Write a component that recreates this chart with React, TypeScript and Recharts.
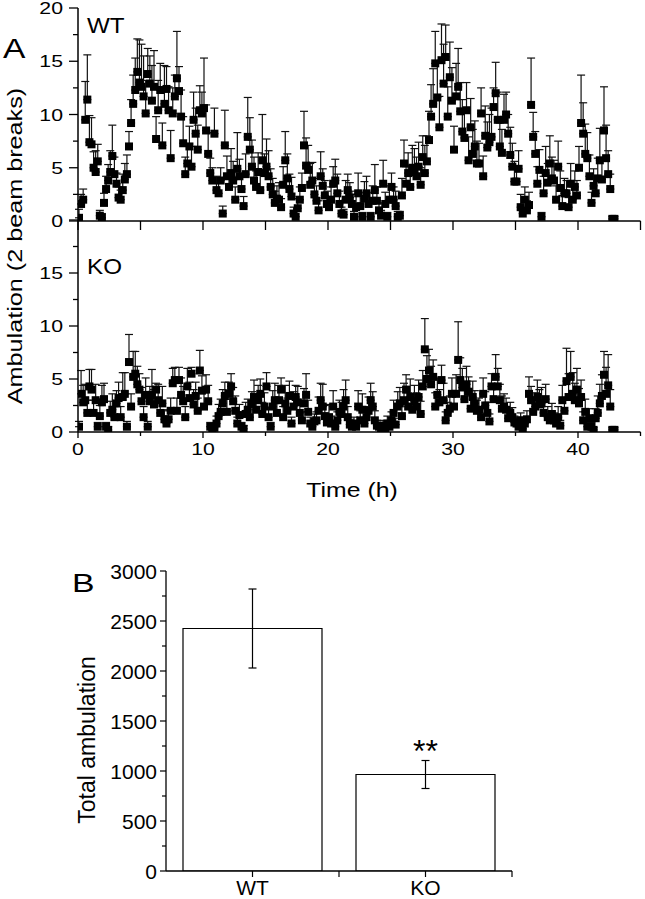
import React from "react";
import {
  ScatterChart,
  Scatter,
  XAxis,
  YAxis,
  ErrorBar,
  BarChart,
  Bar,
  LabelList,
} from "recharts";

const FONT = '"Liberation Sans", Arial, sans-serif';

// recording grid (h): first bin and bin width (10 min)
const T_FIRST = 0.08;
const T_STEP = 1 / 6;

// Panel A, WT: mean ambulation per bin (one line per hour) and SEM (upper bar only)
const wtMean = [
  0.3, 1.6, 2.0, 9.5, 11.4, 7.4,
  7.2, 5.0, 4.6, 5.6, 0.5, 0.3,
  1.7, 3.0, 3.8, 4.6, 6.1, 4.4,
  3.5, 2.2, 2.0, 2.9, 3.9, 4.4,
  7.0, 9.2, 11.0, 12.3, 14.0, 13.0,
  12.6, 11.7, 10.1, 13.8, 12.9, 11.3,
  12.6, 7.7, 10.4, 12.3, 7.1, 11.0,
  12.4, 10.4, 5.9, 10.1, 11.7, 13.4,
  12.2, 9.8, 7.3, 4.4, 5.4, 7.0,
  5.1, 9.5, 8.2, 6.7, 10.4, 10.1,
  10.6, 8.5, 6.3, 4.5, 3.8, 8.2,
  2.9, 2.6, 3.8, 0.7, 7.1, 4.2,
  3.2, 4.5, 3.8, 2.0, 4.9, 4.2,
  3.0, 1.4, 4.4, 7.9, 6.7, 5.1,
  3.8, 3.2, 4.6, 2.9, 5.7, 4.5,
  5.1, 4.2, 3.2, 2.5, 1.7, 2.1,
  2.0, 1.3, 3.4, 5.7, 4.0, 3.0,
  2.3, 0.7, 0.4, 1.2, 2.0, 3.1,
  7.1, 5.2, 4.8, 3.4, 3.8, 2.5,
  1.9, 1.0, 4.2, 3.3, 2.4, 1.6,
  1.3, 2.0, 3.5, 3.8, 2.6, 1.6,
  0.7, 0.6, 2.0, 2.9, 2.2, 1.6,
  0.4, 1.3, 2.6, 1.4, 0.4, 2.1,
  2.6, 1.6, 0.4, 1.9, 2.9, 1.9,
  1.0, 0.5, 3.5, 1.6, 0.4, 2.0,
  3.2, 2.0, 1.4, 0.4, 0.5, 2.4,
  5.4, 3.5, 4.5, 3.2, 5.0, 4.6,
  4.2, 5.1, 3.4, 6.0, 4.5, 5.6,
  7.6, 9.8, 11.0, 14.8, 11.6, 8.8,
  15.1, 12.9, 15.4, 9.8, 13.5, 11.3,
  6.7, 11.7, 12.6, 10.3, 8.4, 7.8,
  10.4, 5.7, 8.8, 6.3, 7.0, 5.4,
  5.4, 10.1, 4.2, 8.0, 6.9, 7.4,
  7.9, 10.7, 12.0, 9.5, 7.0, 6.4,
  9.5, 10.0, 8.2, 6.2, 5.1, 3.7,
  3.7, 4.9, 1.3, 0.7, 2.0, 1.0,
  1.5, 10.9, 7.9, 6.3, 3.5, 4.8,
  0.4, 2.6, 4.5, 3.6, 5.4, 4.0,
  3.8, 2.0, 5.1, 3.1, 1.4, 2.6,
  2.6, 1.3, 3.5, 2.0, 3.2, 2.4,
  5.0, 9.2, 8.2, 6.3, 5.9, 4.2,
  1.7, 3.3, 2.6, 4.0, 5.7, 3.9,
  8.5, 5.9, 4.4, 3.0, 0.2, 0.2,
];
const wtSem = [
  0.8, 0.9, 1.0, 3.6, 4.2, 2.5,
  2.5, 1.5, 2.0, 1.6, 0.5, 0.4,
  0.9, 1.2, 1.5, 2.0, 2.9, 1.6,
  1.0, 1.0, 0.9, 1.5, 1.5, 1.8,
  1.4, 2.2, 2.7, 3.0, 3.1, 4.0,
  4.0, 3.8, 3.1, 2.4, 2.6, 3.3,
  3.4, 2.1, 2.8, 2.5, 2.1, 3.6,
  2.1, 2.2, 2.6, 2.4, 2.0, 4.4,
  2.3, 2.5, 2.5, 1.6, 1.7, 1.9,
  1.9, 2.6, 2.4, 2.3, 2.3, 2.0,
  4.7, 2.4, 2.0, 1.4, 1.2, 2.4,
  1.3, 1.0, 1.2, 0.7, 3.3, 1.9,
  1.2, 2.3, 1.8, 1.2, 3.4, 1.6,
  1.1, 0.9, 1.9, 3.7, 3.0, 2.5,
  2.2, 1.5, 1.8, 1.5, 4.3, 1.8,
  2.6, 2.4, 1.7, 1.5, 1.1, 1.2,
  1.6, 0.8, 1.7, 2.7, 2.3, 1.4,
  1.8, 0.6, 0.5, 0.9, 1.2, 1.4,
  3.2, 2.6, 2.3, 2.0, 1.7, 1.5,
  1.4, 0.9, 2.3, 1.6, 1.4, 1.2,
  1.0, 1.2, 1.6, 2.0, 1.8, 1.2,
  0.6, 0.5, 1.8, 1.5, 1.4, 1.2,
  0.5, 1.2, 1.9, 1.3, 0.4, 1.6,
  1.6, 1.1, 0.4, 1.4, 2.4, 1.3,
  0.7, 0.5, 2.2, 1.1, 0.4, 1.3,
  1.3, 1.2, 1.4, 0.5, 0.4, 1.6,
  2.2, 1.6, 1.9, 2.0, 2.1, 2.2,
  1.8, 2.3, 1.6, 2.0, 2.6, 2.4,
  2.7, 3.0, 3.3, 3.0, 3.2, 2.9,
  3.4, 3.7, 3.0, 2.8, 3.3, 3.1,
  2.2, 3.1, 3.6, 2.7, 3.0, 2.6,
  2.6, 2.2, 2.7, 2.3, 2.4, 2.1,
  1.9, 2.4, 1.9, 2.8, 2.4, 2.6,
  2.7, 1.8, 2.9, 2.6, 2.2, 2.2,
  2.4, 2.1, 1.8, 2.6, 2.2, 1.9,
  1.3, 1.7, 1.2, 0.8, 1.2, 0.9,
  1.2, 4.4, 2.3, 2.1, 1.6, 1.9,
  0.4, 1.6, 2.5, 1.8, 2.6, 2.0,
  1.9, 1.3, 2.4, 1.6, 1.0, 1.4,
  1.2, 0.9, 1.9, 1.2, 1.5, 1.4,
  2.0, 4.5, 2.9, 2.8, 2.4, 2.0,
  1.0, 1.6, 1.4, 1.9, 3.0, 2.0,
  4.1, 3.1, 2.2, 1.4, 0.2, 0.2,
];

// Panel A, KO
const koMean = [
  0.5, 3.6, 2.8, 3.0, 1.8, 4.3,
  4.0, 1.8, 3.0, 0.5, 1.5, 2.8,
  3.1, 0.5, 0.2, 1.8, 2.1, 1.4,
  2.7, 3.2, 1.4, 3.3, 3.6, 0.5,
  6.6, 2.4, 5.2, 5.5, 4.5, 4.0,
  2.9, 1.4, 3.5, 0.5, 2.9, 3.5,
  2.6, 4.0, 3.0, 1.8, 2.7, 1.2,
  0.8, 1.2, 2.0, 4.6, 4.9, 2.0,
  4.9, 3.5, 2.9, 1.4, 4.3, 3.2,
  5.5, 2.6, 3.4, 2.0, 5.8, 3.9,
  2.4, 4.0, 2.9, 0.5, 0.2, 0.4,
  0.8, 1.5, 1.9, 2.7, 3.4, 1.9,
  3.6, 4.3, 2.9, 2.0, 0.8, 1.6,
  0.5, 0.3, 1.7, 2.1, 1.4, 2.7,
  3.3, 2.1, 3.0, 3.6, 1.7, 2.4,
  4.3, 1.4, 0.5, 2.4, 3.0, 1.8,
  3.0, 4.0, 1.4, 2.7, 2.0, 3.4,
  0.8, 2.4, 3.3, 2.8, 1.8, 1.1,
  2.7, 3.5, 1.9, 0.8, 0.5, 1.0,
  1.1, 2.0, 3.0, 2.4, 1.5, 0.9,
  1.4, 0.8, 2.4, 0.5, 1.1, 1.9,
  1.7, 2.4, 3.0, 1.4, 0.7, 0.5,
  0.8, 0.5, 2.4, 1.1, 2.1, 0.8,
  1.4, 2.0, 3.0, 2.4, 1.1, 0.6,
  0.5, 0.35, 0.6, 0.2, 0.8, 0.5,
  1.1, 1.8, 0.7, 2.4, 2.7, 1.5,
  3.0, 4.0, 2.4, 3.3, 2.1, 2.9,
  2.4, 3.3, 1.7, 4.3, 7.8, 5.0,
  5.8, 4.5, 5.2, 2.4, 3.5, 2.8,
  4.9, 3.0, 1.1, 1.8, 2.2, 3.6,
  2.4, 3.6, 6.8, 4.9, 4.2, 3.1,
  4.5, 3.8, 2.2, 3.3, 2.7, 2.0,
  2.1, 1.4, 3.6, 2.5, 1.8, 1.0,
  4.3, 3.1, 5.2, 4.3, 3.0, 2.2,
  2.4, 2.1, 1.3, 1.8, 1.4, 0.9,
  0.8, 0.5, 1.1, 0.3, 0.8, 1.2,
  3.6, 3.0, 1.9, 2.4, 3.3, 2.6,
  2.7, 1.8, 3.1, 1.4, 1.1, 1.7,
  1.1, 0.8, 1.4, 0.6, 3.0, 2.0,
  4.8, 3.3, 5.2, 3.6, 3.0, 4.0,
  2.7, 3.3, 1.1, 1.9, 0.5, 1.3,
  0.5, 0.2, 1.3, 1.8, 2.7, 3.4,
  5.4, 3.6, 4.4, 2.4, 0.2, 0.2,
];
const koSem = [
  0.5, 2.2, 1.6, 1.5, 1.2, 1.6,
  1.9, 1.2, 1.5, 0.4, 1.0, 1.6,
  1.5, 0.4, 0.3, 1.1, 1.5, 1.0,
  1.2, 1.5, 1.0, 2.3, 2.0, 0.5,
  2.6, 1.2, 2.4, 2.1, 1.7, 1.5,
  1.3, 1.0, 1.6, 0.5, 1.4, 2.4,
  1.4, 0.6, 1.5, 1.0, 1.6, 0.9,
  0.6, 0.8, 1.2, 1.4, 1.2, 1.2,
  1.2, 1.6, 1.4, 1.0, 1.7, 1.5,
  0.6, 1.4, 1.3, 1.2, 1.9, 1.4,
  1.3, 1.4, 1.5, 0.4, 0.3, 0.4,
  0.7, 1.1, 1.2, 1.3, 1.3, 1.2,
  1.1, 1.2, 1.3, 1.4, 0.6, 1.0,
  0.4, 0.3, 1.1, 1.0, 0.9, 1.1,
  1.6, 1.3, 1.4, 1.4, 1.1, 1.3,
  1.3, 0.9, 0.4, 1.5, 1.6, 1.2,
  1.4, 1.1, 1.0, 1.7, 1.2, 1.4,
  0.6, 1.4, 1.1, 1.5, 1.2, 0.8,
  1.4, 2.0, 1.1, 0.6, 0.4, 0.7,
  0.8, 1.3, 1.6, 2.1, 1.0, 0.7,
  1.2, 0.7, 1.5, 0.4, 0.8, 1.1,
  1.1, 1.6, 1.9, 1.0, 0.5, 0.4,
  0.6, 0.5, 1.5, 0.9, 1.5, 0.6,
  1.0, 1.3, 1.6, 1.4, 0.9, 0.5,
  0.4, 0.3, 0.5, 0.2, 0.7, 0.4,
  0.8, 1.2, 0.6, 1.4, 1.5, 1.1,
  1.6, 1.4, 1.3, 1.7, 1.3, 1.5,
  1.3, 1.6, 1.2, 1.5, 2.9, 2.2,
  2.0, 1.7, 1.6, 1.3, 1.6, 1.2,
  1.4, 1.6, 0.8, 1.0, 1.2, 1.5,
  1.3, 1.8, 3.6, 2.1, 1.8, 1.5,
  1.7, 1.4, 1.2, 1.5, 1.2, 1.0,
  1.1, 0.9, 1.5, 1.3, 1.0, 0.7,
  1.2, 1.4, 2.1, 1.7, 1.5, 1.2,
  1.2, 1.1, 0.9, 1.0, 0.9, 0.6,
  0.6, 0.5, 0.7, 0.3, 0.6, 0.8,
  1.6, 1.3, 1.2, 1.3, 1.6, 1.4,
  1.5, 1.2, 1.4, 1.0, 0.8, 1.0,
  0.7, 0.6, 1.0, 0.5, 1.4, 1.2,
  3.1, 2.2, 2.4, 2.0, 1.6, 2.0,
  1.4, 1.6, 0.8, 1.2, 0.4, 0.9,
  0.4, 0.2, 0.9, 1.6, 1.8, 2.0,
  2.2, 2.5, 2.9, 1.6, 0.2, 0.2,
];

const timeTicks = [0, 5, 10, 15, 20, 25, 30, 35, 40, 45];
const ambTicks = [0, 2.5, 5, 7.5, 10, 12.5, 15, 17.5, 20];

// Panel B
const groups = ["WT", "KO"];
const totalMean = [2425, 965];
const totalSem = [395, 140];
const totalSig = ["", "**"];
const totalTicks = [
  0, 250, 500, 750, 1000, 1250, 1500, 1750, 2000, 2250, 2500, 2750, 3000,
];

const toRows = (mean: number[], sem: number[]) =>
  mean.map((v, i) => ({ t: T_FIRST + i * T_STEP, v, err: [0, sem[i]] }));

const wtRows = toRows(wtMean, wtSem);
const koRows = toRows(koMean, koSem);

const totalRows = groups.map((g, i) => ({
  x: i + 0.5,
  name: g,
  total: totalMean[i],
  sem: totalSem[i],
  sig: totalSig[i],
}));

const AXIS = { stroke: "#000", strokeWidth: 1.5 };

// y ticks of panel A: long ticks with labels every 5, short ones in between
const AmbTick = ({ x, y, payload, top }: any) => {
  const v = payload.value;
  const major = v % 5 === 0;
  return (
    <g>
      <line x1={x} x2={x - (major ? 9 : 5)} y1={y} y2={y} stroke="#000" strokeWidth={1.3} />
      {major && v <= top && (
        <text
          transform={`translate(${x - 15},${y + 6}) scale(1.25,1)`}
          textAnchor="end"
          fontSize={17}
          fontFamily={FONT}
          fill="#000"
        >
          {v}
        </text>
      )}
    </g>
  );
};

const TimeTickBare = ({ x, y }: any) => (
  <line x1={x} x2={x} y1={y} y2={y + 9} stroke="#000" strokeWidth={1.3} />
);

const TimeTick = ({ x, y, payload }: any) => {
  const v = payload.value;
  const major = v % 10 === 0;
  return (
    <g>
      <line x1={x} x2={x} y1={y} y2={y + (major ? 6 : 4)} stroke="#000" strokeWidth={1.3} />
      {major && (
        <text
          transform={`translate(${x},${y + 23}) scale(1.25,1)`}
          textAnchor="middle"
          fontSize={17}
          fontFamily={FONT}
          fill="#000"
        >
          {v}
        </text>
      )}
    </g>
  );
};

const TotalTick = ({ x, y, payload }: any) => {
  const v = payload.value;
  const major = v % 500 === 0;
  return (
    <g>
      <line x1={x} x2={x - (major ? 6 : 4)} y1={y} y2={y} stroke="#000" strokeWidth={1.2} />
      {major && (
        <text x={x - 9} y={y + 7.5} textAnchor="end" fontSize={21} fontFamily={FONT} fill="#000">
          {v}
        </text>
      )}
    </g>
  );
};

const GroupTick = ({ x, y, payload }: any) => {
  const v = payload.value;
  const label = groups[v - 0.5];
  return (
    <g>
      <line x1={x} x2={x} y1={y} y2={y + 6} stroke="#000" strokeWidth={1.2} />
      {label && (
        <text x={x} y={y + 24} textAnchor="middle" fontSize={21} fontFamily={FONT} fill="#000">
          {label}
        </text>
      )}
    </g>
  );
};

const SigLabel = ({ x, y, width, value }: any) =>
  value ? (
    <text x={x + width / 2} y={y - 13} textAnchor="middle" fontSize={32} fontFamily={FONT} fill="#000">
      {value}
    </text>
  ) : null;

const square = (p: any) => (
  <rect x={p.cx - 4} y={p.cy - 4} width={8} height={8} fill="#000" />
);

export default function App() {
  return (
    <div
      style={{
        position: "absolute",
        left: 0,
        top: 0,
        width: 645,
        height: 899,
        background: "#fff",
        overflow: "hidden",
      }}
    >
      {/* A: WT */}
      <div style={{ position: "absolute", left: 0, top: 0 }}>
        <ScatterChart width={645} height={230} margin={{ top: 8, right: 4.5, bottom: 0, left: 0 }}>
          <XAxis
            type="number"
            dataKey="t"
            domain={[0, 45]}
            ticks={timeTicks}
            interval={0}
            height={9}
            tickSize={0}
            tickMargin={0}
            tickLine={false}
            axisLine={AXIS}
            tick={(p: any) => <TimeTickBare {...p} />}
            allowDataOverflow
          />
          <YAxis
            type="number"
            dataKey="v"
            domain={[0, 20]}
            ticks={ambTicks}
            interval={0}
            width={78}
            tickSize={0}
            tickMargin={0}
            tickLine={false}
            axisLine={AXIS}
            tick={(p: any) => <AmbTick {...p} top={20} />}
            allowDataOverflow
          />
          <Scatter data={wtRows} shape={square} isAnimationActive={false}>
            <ErrorBar dataKey="err" direction="y" width={4} stroke="#111" strokeWidth={1.2} />
          </Scatter>
        </ScatterChart>
      </div>

      {/* A: KO */}
      <div style={{ position: "absolute", left: 0, top: 200 }}>
        <ScatterChart width={645} height={300} margin={{ top: 20, right: 4.5, bottom: 38, left: 0 }}>
          <XAxis
            type="number"
            dataKey="t"
            domain={[0, 45]}
            ticks={timeTicks}
            interval={0}
            height={30}
            tickSize={0}
            tickMargin={0}
            tickLine={false}
            axisLine={AXIS}
            tick={(p: any) => <TimeTick {...p} />}
            allowDataOverflow
          />
          <YAxis
            type="number"
            dataKey="v"
            domain={[0, 20]}
            ticks={ambTicks}
            interval={0}
            width={78}
            tickSize={0}
            tickMargin={0}
            tickLine={false}
            axisLine={AXIS}
            tick={(p: any) => <AmbTick {...p} top={15} />}
            allowDataOverflow
          />
          <Scatter data={koRows} shape={square} isAnimationActive={false}>
            <ErrorBar dataKey="err" direction="y" width={4} stroke="#111" strokeWidth={1.2} />
          </Scatter>
        </ScatterChart>
      </div>

      {/* B */}
      <div style={{ position: "absolute", left: 0, top: 540 }}>
        <BarChart
          width={645}
          height={360}
          data={totalRows}
          margin={{ top: 31, right: 133, bottom: 0, left: 0 }}
        >
          <XAxis
            type="number"
            dataKey="x"
            domain={[0, 2]}
            ticks={[0.5, 1, 1.5, 2]}
            interval={0}
            height={29}
            tickSize={0}
            tickMargin={0}
            tickLine={false}
            axisLine={{ stroke: "#000", strokeWidth: 1.3 }}
            tick={(p: any) => <GroupTick {...p} />}
          />
          <YAxis
            type="number"
            domain={[0, 3000]}
            ticks={totalTicks}
            interval={0}
            width={166}
            tickSize={0}
            tickMargin={0}
            tickLine={false}
            axisLine={{ stroke: "#000", strokeWidth: 1.3 }}
            tick={(p: any) => <TotalTick {...p} />}
            allowDataOverflow
          />
          <Bar dataKey="total" barSize={139} fill="#fff" stroke="#000" strokeWidth={1.2} isAnimationActive={false}>
            <ErrorBar dataKey="sem" direction="y" width={4} stroke="#000" strokeWidth={1.2} />
            <LabelList dataKey="sig" content={SigLabel} />
          </Bar>
        </BarChart>
      </div>

      {/* free text */}
      <svg
        width={645}
        height={899}
        style={{ position: "absolute", left: 0, top: 0, pointerEvents: "none" }}
        fontFamily={FONT}
        fill="#000"
      >
        <text transform="translate(3,58) scale(1.2,1)" fontSize={28}>A</text>
        <text transform="translate(87,33) scale(1.1,1)" fontSize={22}>WT</text>
        <text transform="translate(87,274) scale(1.1,1)" fontSize={22}>KO</text>
        <text transform="translate(22,246) rotate(-90) scale(1.26,1)" fontSize={20} textAnchor="middle">
          Ambulation (2 beam breaks)
        </text>
        <text transform="translate(352,497) scale(1.24,1)" fontSize={20} textAnchor="middle">
          Time (h)
        </text>
        <text transform="translate(72,592) scale(1.3,1)" fontSize={26}>B</text>
        <text transform="translate(95,740) rotate(-90)" fontSize={23} textAnchor="middle">
          Total ambulation
        </text>
      </svg>
    </div>
  );
}
